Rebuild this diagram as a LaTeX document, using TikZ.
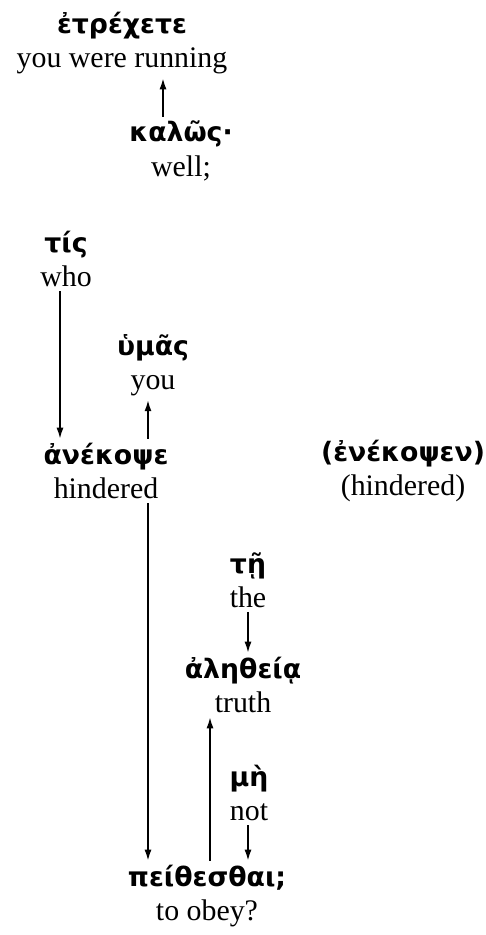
\documentclass[tikz,border=0pt]{standalone}
\usepackage{fontspec}
\setmainfont{Liberation Serif}
\newfontfamily\gkfont{DejaVu Sans}
\usetikzlibrary{arrows.meta}
\newcommand\gk[1]{{\gkfont\bfseries\fontsize{15.2}{18}\selectfont #1}}

\begin{document}
\begin{tikzpicture}
        [x=0.02cm, y=-0.02cm, line width=0.9pt, >={Latex[length=2.2mm,width=1.4mm]},
         every node/.style={align=center, inner sep=2pt, font=\fontsize{17}{19.5}\selectfont}]

        \useasboundingbox (0,0) rectangle (486,935);

        \node (etrechete) at (122,43) {\gk{ἐτρέχετε}\\you were running};
        \node (kalos) at (181,151) {\gk{καλῶς·}\\well;};
        \node (tis) at (66,259) {\gk{τίς}\\who};
        \node (humas) at (153,365) {\gk{ὑμᾶς}\\you};
        \node (anekope) at (106,471) {\gk{ἀνέκοψε}\\hindered};
        \node (enekopsen) at (403,471) {\gk{(ἐνέκοψεν)}\\(hindered)};
        \node (te) at (248,580) {\gk{τῇ}\\the};
        \node (aletheia) at (243,685) {\gk{ἀληθείᾳ}\\truth};
        \node (me) at (249,793) {\gk{μὴ}\\not};
        \node (peithesthai) at (207,896) {\gk{πείθεσθαι;}\\to obey?};

        \draw[->] (kalos.north -| 163,0) -- (etrechete.south -| 163,0);
        \draw[->] (tis.south -| 60,0) -- (anekope.north -| 60,0);
        \draw[->] (anekope.north -| 148,0) -- (humas.south -| 148,0);
        \draw[->] (anekope.south -| 148,0) -- (peithesthai.north -| 148,0);
        \draw[->] (te.south -| 248,0) -- (aletheia.north -| 248,0);
        \draw[->] (peithesthai.north -| 210,0) -- (aletheia.south -| 210,0);
        \draw[->] (me.south -| 248,0) -- (peithesthai.north -| 248,0);
      \end{tikzpicture}
\end{document}
